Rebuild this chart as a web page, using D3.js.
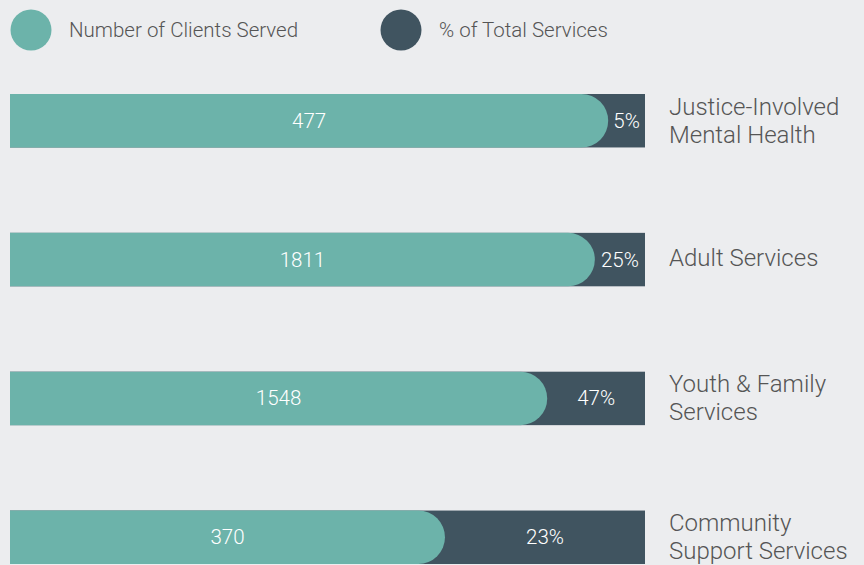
<!DOCTYPE html>
<html>
<head>
<meta charset="utf-8">
<script src="https://cdn.jsdelivr.net/npm/d3@7"></script>
<style>
  body { margin: 0; background: #ecedef; }
  text { font-family: Roboto, "Liberation Sans", Arial, sans-serif; font-weight: 300; }
</style>
</head>
<body>
<svg id="chart"></svg>
<script>
// --- data ---
const categories = [
  ["Justice-Involved", "Mental Health"],
  ["Adult Services"],
  ["Youth & Family", "Services"],
  ["Community", "Support Services"]
];
const clientsServed = [477, 1811, 1548, 370];
const pctServices = [5, 25, 47, 23];
// teal part of each bar, as % of the full bar length (estimated)
const tealShare = [94.2, 92.1, 84.6, 68.5];
const legendLabels = ["Number of Clients Served", "% of Total Services"];

const teal = "#6cb3aa";
const dark = "#405460";
const width = 864, height = 565;

const svg = d3.select("#chart")
  .attr("width", width)
  .attr("height", height);

svg.append("rect")
  .attr("width", width).attr("height", height)
  .attr("fill", "#ecedef");

// scales
const x = d3.scaleLinear().domain([0, 100]).range([10, 645]);
const y = d3.scaleBand()
  .domain(d3.range(categories.length))
  .range([94, 564])
  .paddingInner(0.615)
  .paddingOuter(0);

// legend
const legend = svg.append("g");
const legendX = [31, 401];
legendLabels.forEach((lab, i) => {
  legend.append("circle")
    .attr("cx", legendX[i]).attr("cy", 30).attr("r", 20.5)
    .attr("fill", i == 0 ? teal : dark);
  legend.append("text")
    .attr("x", legendX[i] + 38).attr("y", 37)
    .attr("font-size", 20.5)
    .attr("fill", "#555555")
    .text(lab);
});

const rows = svg.append("g")
  .selectAll("g")
  .data(d3.range(categories.length))
  .enter()
  .append("g")
  .attr("transform", (i) => `translate(0,${y(i)})`);

const bh = y.bandwidth();

// dark full bar
rows.append("rect")
  .attr("x", x(0)).attr("y", 0)
  .attr("width", x(100) - x(0)).attr("height", bh)
  .attr("fill", dark);

// teal part: square left, rounded right
const r = 27;
rows.append("path")
  .attr("fill", teal)
  .attr("d", (i) => {
    const x0 = x(0), x1 = x(tealShare[i]);
    const rr = Math.min(r, bh / 2);
    return `M${x0},0 H${x1 - rr} A${rr},${rr} 0 0 1 ${x1},${rr}` +
      ` V${bh - rr} A${rr},${rr} 0 0 1 ${x1 - rr},${bh} H${x0} Z`;
  });

// client counts
rows.append("text")
  .attr("x", (i) => (x(0) + x(tealShare[i])) / 2)
  .attr("y", bh / 2 + 7)
  .attr("text-anchor", "middle")
  .attr("font-size", 20.5)
  .attr("fill", "#ffffff")
  .text((i) => clientsServed[i]);

// percentages
rows.append("text")
  .attr("x", (i) => (x(tealShare[i]) + x(100)) / 2)
  .attr("y", bh / 2 + 7)
  .attr("text-anchor", "middle")
  .attr("font-size", 20.5)
  .attr("fill", "#ffffff")
  .text((i) => pctServices[i] + "%");

// category labels
rows.append("text")
  .attr("x", 669)
  .attr("font-size", 24)
  .attr("fill", "#555555")
  .each(function(i) {
    const lines = categories[i];
    const t = d3.select(this);
    const y0 = lines.length == 1 ? bh / 2 + 6 : bh / 2 - 6;
    lines.forEach((ln, k) => {
      t.append("tspan").attr("x", 669).attr("y", y0 + k * 28).text(ln);
    });
  });
</script>
</body>
</html>
